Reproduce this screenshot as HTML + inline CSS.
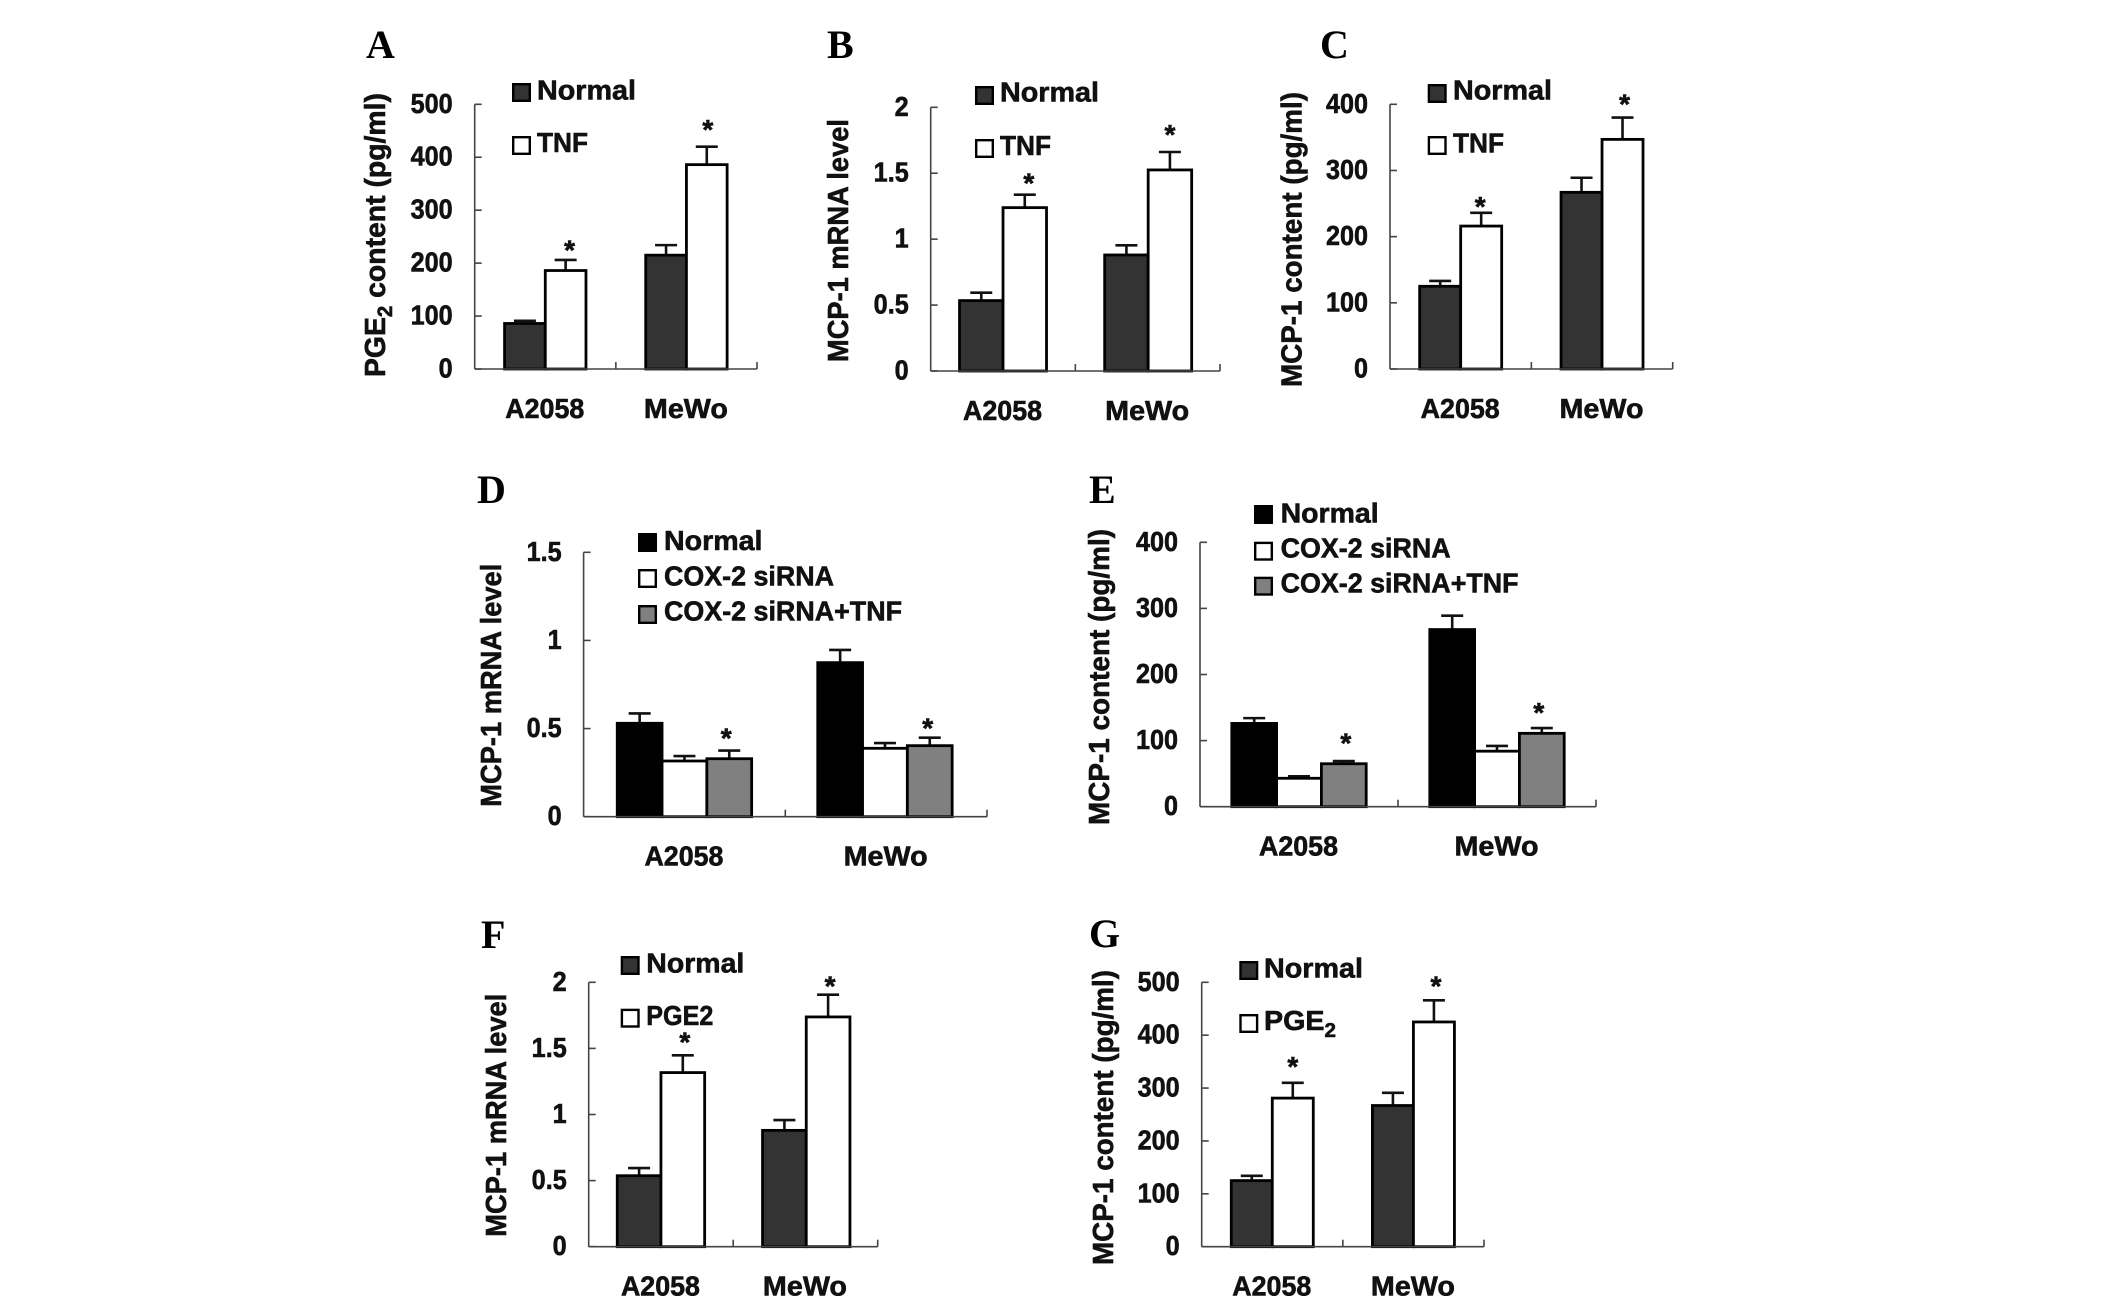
<!DOCTYPE html>
<html lang="en">
<head>
<meta charset="utf-8">
<title>PGE2 and MCP-1 bar chart panels</title>
<style>
  html, body { margin: 0; padding: 0; background: #fff; width: 2126px; height: 1306px; overflow: hidden; }
  svg { display: block; }
  text { font-family: "Liberation Sans", sans-serif; font-weight: bold; fill: #111; stroke: #111; stroke-width: 0.6px; }
  .letter { font-family: "Liberation Serif", serif; font-weight: bold; fill: #000; stroke: none; }
</style>
</head>
<body>
<svg id="figure" xmlns="http://www.w3.org/2000/svg" width="2126" height="1306" viewBox="0 0 2126 1306"></svg>
<script>
// ---------- data ----------
const categories = ['A2058', 'MeWo'];

const panelATicks = ['0', '100', '200', '300', '400', '500'];
const panelANormal = [86, 215];
const panelANormalErr = [5, 19];
const panelATnf = [186, 386];
const panelATnfErr = [20, 34];

const panelBTicks = ['0', '0.5', '1', '1.5', '2'];
const panelBNormal = [0.534, 0.88];
const panelBNormalErr = [0.06, 0.073];
const panelBTnf = [1.239, 1.525];
const panelBTnfErr = [0.098, 0.136];

const panelCTicks = ['0', '100', '200', '300', '400'];
const panelCNormal = [125, 267];
const panelCNormalErr = [8, 22];
const panelCTnf = [216, 347];
const panelCTnfErr = [20, 33];

const panelDTicks = ['0', '0.5', '1', '1.5'];
const panelDNormal = [0.53, 0.874];
const panelDNormalErr = [0.056, 0.072];
const panelDSirna = [0.316, 0.388];
const panelDSirnaErr = [0.028, 0.03];
const panelDSirnaTnf = [0.329, 0.403];
const panelDSirnaTnfErr = [0.046, 0.045];

const panelETicks = ['0', '100', '200', '300', '400'];
const panelENormal = [126, 268];
const panelENormalErr = [8, 21];
const panelESirna = [43, 84];
const panelESirnaErr = [3, 8];
const panelESirnaTnf = [65, 111];
const panelESirnaTnfErr = [4, 8];

const panelFTicks = ['0', '0.5', '1', '1.5', '2'];
const panelFNormal = [0.537, 0.88];
const panelFNormalErr = [0.058, 0.078];
const panelFPge = [1.317, 1.738];
const panelFPgeErr = [0.131, 0.168];

const panelGTicks = ['0', '100', '200', '300', '400', '500'];
const panelGNormal = [125, 267];
const panelGNormalErr = [9, 24];
const panelGPge = [281, 425];
const panelGPgeErr = [29, 41];

// ---------- panel layouts ----------
const DARK = '#333333', BLACK = '#000000', WHITE = '#ffffff', GRAY = '#808080';
const CATEGORY_WIDTH = { A2058: 79, MeWo: 84 };

const panels = [
  { id: 'a', letter: 'A', letterX: 366, letterY: 58,
    x0: 474.7, right: 757, top: 104.3, bottom: 369, barW: 40.7, groupShift: 0,
    ticks: panelATicks,
    title: 'PGE', titleSub: '2', titleRest: ' content (pg/ml)', titleX: 385, titleY: 377, titleLen: 284,
    series: [
      { name: 'normal', fill: DARK, values: panelANormal, err: panelANormalErr },
      { name: 'tnf', fill: WHITE, values: panelATnf, err: panelATnfErr, starGap: [13.3, 20.7], starDx: [4, 1] }
    ],
    legend: { x: 512, tx: 537, rows: [
      { label: 'Normal', fill: DARK, y: 83, base: 99.3, len: 99 },
      { label: 'TNF', fill: WHITE, y: 136, base: 152, len: 51 } ] } },
  { id: 'b', letter: 'B', letterX: 827, letterY: 58,
    x0: 930.7, right: 1220, top: 107.3, bottom: 371, barW: 43.5, groupShift: 0.5,
    ticks: panelBTicks,
    title: 'MCP-1 mRNA level', titleX: 848, titleY: 362, titleLen: 243,
    series: [
      { name: 'normal', fill: DARK, values: panelBNormal, err: panelBNormalErr },
      { name: 'tnf', fill: WHITE, values: panelBTnf, err: panelBTnfErr, starGap: [15.3, 21], starDx: [4, 0] }
    ],
    legend: { x: 975, tx: 1000, rows: [
      { label: 'Normal', fill: DARK, y: 86, base: 101.7, len: 99 },
      { label: 'TNF', fill: WHITE, y: 139, base: 155, len: 51 } ] } },
  { id: 'c', letter: 'C', letterX: 1320, letterY: 58,
    x0: 1390, right: 1672.7, top: 104.3, bottom: 369, barW: 41, groupShift: 0,
    ticks: panelCTicks,
    title: 'MCP-1 content (pg/ml)', titleX: 1301.7, titleY: 387, titleLen: 295,
    series: [
      { name: 'normal', fill: DARK, values: panelCNormal, err: panelCNormalErr },
      { name: 'tnf', fill: WHITE, values: panelCTnf, err: panelCTnfErr, starGap: [10, 17], starDx: [-1, 2] }
    ],
    legend: { x: 1427.7, tx: 1453, rows: [
      { label: 'Normal', fill: DARK, y: 84, base: 99.3, len: 99 },
      { label: 'TNF', fill: WHITE, y: 136, base: 152.3, len: 51 } ] } },
  { id: 'd', letter: 'D', letterX: 477, letterY: 503,
    x0: 583.6, right: 987, top: 552.3, bottom: 816.7, barW: 44.8, groupShift: -1.2,
    ticks: panelDTicks,
    title: 'MCP-1 mRNA level', titleX: 501, titleY: 806.7, titleLen: 243,
    series: [
      { name: 'normal', fill: BLACK, values: panelDNormal, err: panelDNormalErr },
      { name: 'cox2-sirna', fill: WHITE, values: panelDSirna, err: panelDSirnaErr },
      { name: 'cox2-sirna-tnf', fill: GRAY, values: panelDSirnaTnf, err: panelDSirnaTnfErr, starGap: [16, 13], starDx: [-3, -2] }
    ],
    legend: { x: 638, tx: 664, rows: [
      { label: 'Normal', fill: BLACK, y: 533, base: 550, len: 98.5 },
      { label: 'COX-2 siRNA', fill: WHITE, y: 569, base: 585.7, len: 170 },
      { label: 'COX-2 siRNA+TNF', fill: GRAY, y: 605, base: 620.7, len: 238 } ] } },
  { id: 'e', letter: 'E', letterX: 1089, letterY: 503,
    x0: 1200, right: 1596, top: 542.3, bottom: 806.7, barW: 44.8, groupShift: 0,
    ticks: panelETicks,
    title: 'MCP-1 content (pg/ml)', titleX: 1109, titleY: 825, titleLen: 296,
    series: [
      { name: 'normal', fill: BLACK, values: panelENormal, err: panelENormalErr },
      { name: 'cox2-sirna', fill: WHITE, values: panelESirna, err: panelESirnaErr },
      { name: 'cox2-sirna-tnf', fill: GRAY, values: panelESirnaTnf, err: panelESirnaTnfErr, starGap: [21.7, 19], starDx: [2, -3] }
    ],
    legend: { x: 1254, tx: 1280.6, rows: [
      { label: 'Normal', fill: BLACK, y: 505, base: 522.7, len: 98 },
      { label: 'COX-2 siRNA', fill: WHITE, y: 541.7, base: 557.7, len: 170 },
      { label: 'COX-2 siRNA+TNF', fill: GRAY, y: 576.7, base: 592.7, len: 238 } ] } },
  { id: 'f', letter: 'F', letterX: 481, letterY: 948,
    x0: 588.7, right: 877.7, top: 982.3, bottom: 1246.7, barW: 43.7, groupShift: 0.8,
    ticks: panelFTicks,
    title: 'MCP-1 mRNA level', titleX: 506, titleY: 1236.7, titleLen: 243,
    series: [
      { name: 'normal', fill: DARK, values: panelFNormal, err: panelFNormalErr },
      { name: 'pge2', fill: WHITE, values: panelFPge, err: panelFPgeErr, starGap: [16.7, 12], starDx: [2, 2] }
    ],
    legend: { x: 620.7, tx: 646.3, rows: [
      { label: 'Normal', fill: DARK, y: 956, base: 972.7, len: 98 },
      { label: 'PGE2', fill: WHITE, y: 1008.7, base: 1025, len: 67 } ] } },
  { id: 'g', letter: 'G', letterX: 1089, letterY: 947,
    x0: 1201.7, right: 1484, top: 982.3, bottom: 1246.7, barW: 41, groupShift: 0,
    ticks: panelGTicks,
    title: 'MCP-1 content (pg/ml)', titleX: 1113, titleY: 1265, titleLen: 295,
    series: [
      { name: 'normal', fill: DARK, values: panelGNormal, err: panelGNormalErr },
      { name: 'pge2', fill: WHITE, values: panelGPge, err: panelGPgeErr, starGap: [20, 17.7], starDx: [0, 2] }
    ],
    legend: { x: 1239.3, tx: 1264, rows: [
      { label: 'Normal', fill: DARK, y: 961, base: 977.3, len: 99 },
      { label: 'PGE', sub: '2', fill: WHITE, y: 1014, base: 1030, len: 72 } ] } }
];

// ---------- drawing ----------
const NS = 'http://www.w3.org/2000/svg';
const root = document.getElementById('figure');

function make(tag, parent, attrs) {
  const node = document.createElementNS(NS, tag);
  for (const key in attrs) node.setAttribute(key, attrs[key]);
  parent.appendChild(node);
  return node;
}

function fillSub(node, main, sub, rest, size) {
  const a = make('tspan', node, {});
  a.textContent = main;
  const b = make('tspan', node, { dy: 7, 'font-size': size * 0.72 });
  b.textContent = sub;
  if (rest) {
    const c = make('tspan', node, { dy: -7 });
    c.textContent = rest;
  }
}

function drawPanel(p) {
  const g = make('g', root, {});
  
  

  const yMax = Number(p.ticks[p.ticks.length - 1]);
  const yScale = v => p.bottom - (v / yMax) * (p.bottom - p.top);
  const slot = (p.right - p.x0) / categories.length;
  const groupCenter = i => p.x0 + slot * (i + 0.5);
  const barX = (i, s) => groupCenter(i) + (s - p.series.length / 2) * p.barW + p.groupShift * i;

  // panel letter
  const letter = make('text', g, { x: p.letterX, y: p.letterY, 'font-size': 40, class: 'letter' });
  letter.textContent = p.letter;
  
  

  // y-axis title
  const title = make('text', g, {
    x: p.titleX, y: p.titleY, 'font-size': 29,
    transform: `rotate(-90 ${p.titleX} ${p.titleY})`,
    textLength: p.titleLen, lengthAdjust: 'spacingAndGlyphs'
  });
  if (p.titleSub) fillSub(title, p.title, p.titleSub, p.titleRest, 29);
  else title.textContent = p.title;
  
  

  // bars and error bars
  p.series.forEach((series, s) => {
    categories.forEach((cat, i) => {
      const x = barX(i, s);
      const yTop = yScale(series.values[i]);
      const yErr = yScale(series.values[i] + series.err[i]);
      const cx = x + p.barW / 2;

      const stem = make('line', g, { x1: cx, x2: cx, y1: yErr, y2: yTop, stroke: '#111', 'stroke-width': 2.6 });
      
      

      const cap = make('line', g, { x1: cx - 11, x2: cx + 11, y1: yErr, y2: yErr, stroke: '#111', 'stroke-width': 2.6 });
      
      

      const bar = make('rect', g, {
        x: x, y: yTop, width: p.barW, height: yScale(0) - yTop,
        fill: series.fill, stroke: '#000', 'stroke-width': 2.8
      });
      
      

      if (series.starGap) {
        const star = make('text', g, {
          x: cx + series.starDx[i], y: yErr - series.starGap[i] + 13,
          'font-size': 28, 'text-anchor': 'middle'
        });
        star.textContent = '*';
        
        
      }
    });
  });

  // axes
  const yAxis = make('line', g, { x1: p.x0, x2: p.x0, y1: p.top, y2: p.bottom, stroke: '#444', 'stroke-width': 1.6 });
  
  

  const xAxis = make('line', g, { x1: p.x0, x2: p.right, y1: p.bottom, y2: p.bottom, stroke: '#444', 'stroke-width': 1.6 });
  
  

  p.ticks.forEach(label => {
    const y = yScale(Number(label));
    const tick = make('line', g, { x1: p.x0, x2: p.x0 + 7, y1: y, y2: y, stroke: '#444', 'stroke-width': 1.6 });
    
    

    const text = make('text', g, {
      'font-size': 28, 'text-anchor': 'end',
      transform: `translate(${p.x0 - 22} ${y + 8.5}) scale(0.9 1)`
    });
    text.textContent = label;
    
    
  });

  categories.forEach((cat, i) => {
    const tx = p.x0 + slot * (i + 1);
    const tick = make('line', g, { x1: tx, x2: tx, y1: p.bottom - 7, y2: p.bottom, stroke: '#444', 'stroke-width': 1.6 });
    
    

    const text = make('text', g, {
      x: groupCenter(i) - 0.5, y: p.bottom + 49,
      'font-size': 28, 'text-anchor': 'middle',
      textLength: CATEGORY_WIDTH[cat], lengthAdjust: 'spacingAndGlyphs'
    });
    text.textContent = cat;
    
    
  });

  // legend
  const lg = make('g', g, {});
  
  
  p.legend.rows.forEach(row => {
    const sw = make('rect', lg, {
      x: p.legend.x + 1.2, y: row.y + 1.2, width: 16.6, height: 16.6,
      fill: row.fill, stroke: '#000', 'stroke-width': 2.4
    });
    
    

    const text = make('text', lg, {
      x: p.legend.tx, y: row.base, 'font-size': 28,
      textLength: row.len, lengthAdjust: 'spacingAndGlyphs'
    });
    if (row.sub) fillSub(text, row.label, row.sub, '', 28);
    else text.textContent = row.label;
    
    
  });
}

panels.forEach(drawPanel);
</script>
</body>
</html>
